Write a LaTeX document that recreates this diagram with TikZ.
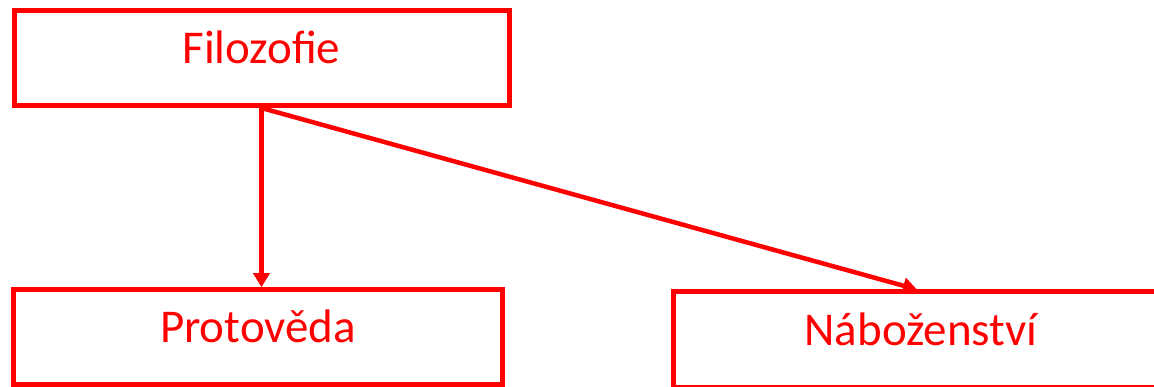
\documentclass[tikz,border=0pt]{standalone}
\usepackage{fontspec}
\setmainfont{Carlito}
\usetikzlibrary{arrows.meta}
\definecolor{boxred}{RGB}{255,0,0}
\tikzset{
  box/.style={draw=boxred, line width=5pt, rectangle, inner sep=0pt, text=boxred,
    text height=31pt, text depth=20pt,
    font=\fontsize{47}{56}\selectfont},
  link/.style={draw=boxred, line width=4.5pt, -{Triangle[width=16pt,length=14pt]}}
}
\begin{document}
\begin{tikzpicture}[x=1pt,y=-1pt]
\useasboundingbox (0,0) rectangle (1154,387);
\clip (0,0) rectangle (1154,387);
\node[box, minimum width=495pt, minimum height=95pt] (filo) at (261.5,58) {Filozofie};
\node[box, minimum width=489.5pt, minimum height=94.5pt] (prot) at (258,337) {Protověda};
\node[box, minimum width=496pt, minimum height=95pt] (nab) at (921,339.5) {Náboženství};
\draw[link] (filo.south) -- (filo.south |- prot.north);
\draw[link] (filo.south) -- ([xshift=-4pt]nab.north);
\end{tikzpicture}
\end{document}
